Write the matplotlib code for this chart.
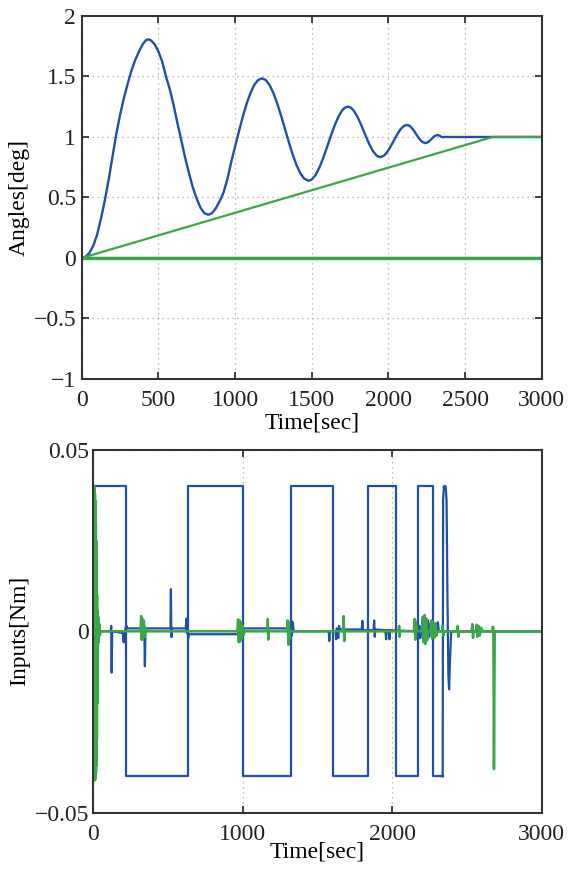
import matplotlib
matplotlib.use('Agg')
import matplotlib.pyplot as plt

plt.rcParams['font.family'] = ['Liberation Serif', 'DejaVu Serif']
plt.rcParams['font.size'] = 17

# --- top plot: angles ---
ang_t = [0, 25, 50, 75, 100, 125, 150, 175, 200, 225, 250, 275, 300, 325, 350, 375, 400, 420, 434,
         450, 475, 500, 525, 550, 575, 600, 625, 650, 675, 700, 725, 750, 775, 800, 826,
         850, 875, 900, 925, 950, 975, 1000, 1025, 1050, 1075, 1100, 1125, 1150, 1175,
         1200, 1225, 1250, 1275, 1300, 1325, 1350, 1375, 1400, 1425, 1450, 1479,
         1500, 1525, 1550, 1575, 1600, 1625, 1650, 1675, 1700, 1715, 1736,
         1755, 1775, 1800, 1825, 1850, 1875, 1900, 1925, 1947,
         1970, 1990, 2010, 2035, 2057, 2080, 2100, 2121,
         2140, 2160, 2180, 2200, 2220, 2241, 2261, 2281, 2301, 2321, 2335, 2350, 2370, 3000]
ang_v = [0, 0.01, 0.04, 0.10, 0.19, 0.32, 0.47, 0.64, 0.83, 1.02, 1.18, 1.32, 1.44, 1.55, 1.64,
         1.71, 1.77, 1.80, 1.807,
         1.80, 1.768, 1.708, 1.623, 1.50, 1.392, 1.26, 1.111, 0.97, 0.827, 0.70, 0.582, 0.49,
         0.415, 0.37, 0.357,
         0.37, 0.411, 0.47, 0.54, 0.65, 0.792, 0.918, 1.044, 1.164, 1.272, 1.361, 1.429, 1.47, 1.485,
         1.471, 1.43, 1.364, 1.278, 1.178, 1.07, 0.962, 0.859, 0.771, 0.702, 0.657, 0.638,
         0.648, 0.685, 0.746, 0.826, 0.916, 1.009, 1.096, 1.17, 1.222, 1.241, 1.251,
         1.243, 1.217, 1.163, 1.093, 1.016, 0.942, 0.882, 0.844, 0.833,
         0.844, 0.871, 0.91, 0.969, 1.02, 1.065, 1.09, 1.10,
         1.091, 1.064, 1.026, 0.988, 0.96, 0.949, 0.959, 0.983, 1.007, 1.017, 1.01, 0.998, 1.0, 1.0]
ref_t = [0, 2680, 3000]
ref_v = [0, 1, 1]
zero_t = [0, 3000]
zero_v = [0, 0]

# --- bottom plot: inputs ---
sq_t = [0, 220, 633, 1000, 1326, 1602, 1836, 2024, 2171, 2275, 2338]
sq_v = [0.04, -0.04, 0.04, -0.04, 0.04, -0.04, 0.04, -0.04, 0.04, -0.04, -0.04]
pulse_t = [2338, 2341, 2346, 2358, 2364, 2370, 2376, 2381, 2387, 2395, 3000]
pulse_v = [-0.04, 0.036, 0.04, 0.04, 0.036, 0.01, -0.012, -0.016, -0.008, 0, 0]

bz_t = [0, 25, 118, 122, 125, 128, 132, 200, 204, 208, 213, 217, 224, 230, 343, 347, 351, 518, 521,
        524, 528, 620, 625, 628, 632, 636, 642, 990, 995, 1000, 1006, 1320, 1325, 1330, 1336, 1342,
        1576, 1580, 1584, 1622, 1626, 1630, 1640, 1645, 1650, 1797, 1801, 1805, 1876, 1880, 1884,
        1888, 1955, 1960, 1964, 1978, 1982, 1986, 2168, 2172, 2176, 2182, 2190, 2198, 2206, 2222,
        2228, 2234, 2240, 2248, 2256, 2266, 2300, 2306, 2312, 2330, 3000]
bz_v = [0, 0, 0, 0.0015, -0.0114, -0.001, 0, -0.0005, -0.003, 0, -0.003, 0.0008, 0.0015, 0.0008,
        0.0008, -0.0096, 0.0008, 0.0008, 0.0116, -0.0016, 0.0008, 0.0008, 0.0035, -0.0005, 0.003,
        -0.002, -0.0008, -0.0008, 0.002, -0.002, 0.0008, 0.0008, 0.003, -0.0012, 0.0025, 0, 0,
        -0.0027, 0, 0, -0.0022, 0.0008, -0.0018, 0.0015, 0.0005, 0.0005, 0.0029, 0.0003, 0.0003,
        0.003, -0.0015, 0.0005, 0.0003, -0.0022, 0.0003, 0.0003, -0.0022, 0.0003, 0, 0.003, -0.002,
        0.0015, -0.0018, 0.0012, 0, 0, 0.0035, -0.002, 0.003, -0.0015, 0.002, 0, 0, 0.0025, 0, 0, 0]

gz_t = [0, 1, 2, 3, 4, 5, 6, 7, 8, 9, 10, 11, 12, 13, 14, 15, 16, 17, 18, 19, 20, 21, 22, 23, 24,
        25, 26, 27, 28, 30, 32, 35, 38, 42, 46, 52, 318, 322, 326, 330, 334,
        340, 346, 352, 360, 965, 970, 975, 980, 985, 990, 995, 1000, 1008, 1015, 1166, 1169, 1172,
        1175, 1298, 1302, 1306, 1310, 1314, 1318, 1672, 1676, 1680, 1684, 2044, 2047, 2050, 2053,
        2145, 2150, 2155, 2160, 2165, 2198, 2204, 2210, 2216, 2222, 2228, 2234, 2240, 2255, 2262,
        2268, 2275, 2282, 2290, 2297, 2304, 2334, 2338, 2342, 2346, 2434, 2438, 2443, 2448, 2532,
        2536, 2541, 2546, 2560, 2565, 2570, 2578, 2586, 2595, 2605, 2668, 2673, 2677, 2681, 2686, 3000]
gz_v = [0, 0.04, -0.04, 0.04, -0.04, 0.04, -0.041, 0.04, -0.041, 0.04, -0.041, 0.039, -0.041,
        0.038, -0.041, 0.036, -0.04, 0.033, -0.04, 0.03, -0.039, 0.025, -0.037, 0.02, -0.034,
        0.015, -0.03, 0.01, -0.02, 0.0056, -0.008, 0.004, -0.003, 0.002, -0.001, 0,
        0, 0.0042, -0.0024, 0.0035, -0.002, 0.003, -0.0015, 0.001, 0, 0,
        0.0033, -0.003, 0.003, -0.0028, 0.0025, -0.002, 0.0015, -0.001, 0, 0, 0.0034, -0.0023, 0, 0,
        0.003, -0.0037, 0.0025, -0.002, 0, 0, 0.0042, -0.0027, 0, 0, 0.0015, -0.0015, 0, 0, 0.0034,
        -0.0023, 0.002, 0, 0, 0.004, -0.003, 0.0045, -0.0035, 0.0035, -0.0025, 0, 0, 0.003, -0.002,
        0.0025, -0.0018, 0.0022, -0.0012, 0, 0, 0.0015, -0.0012, 0, 0, 0.0015, -0.0015, 0, 0, 0.002,
        -0.0018, 0, 0, 0.0018, -0.0015, 0.0015, -0.0012, 0.001, 0, 0, 0.0013, 0.001, -0.038, 0, 0]

blue = '#1f4fa6'
green = '#3aa648'

fig = plt.figure(figsize=(5.74, 8.73), dpi=100)
ax1 = fig.add_axes([0.1423, 0.5659, 0.8014, 0.4158])
ax2 = fig.add_axes([0.162, 0.0691, 0.7817, 0.4155])

ax1.plot(zero_t, zero_v, color=blue, lw=1.6)
ax1.plot(ang_t, ang_v, color=blue, lw=1.7)
ax1.plot(zero_t, zero_v, color=green, lw=2.4)
ax1.plot(ref_t, ref_v, color=green, lw=1.6)
ax1.set_xlim(0, 3000)
ax1.set_ylim(-1, 2)
ax1.set_xticks([0, 500, 1000, 1500, 2000, 2500, 3000])
ax1.set_yticks([-1, -0.5, 0, 0.5, 1, 1.5, 2])
ax1.set_yticklabels(['\u22121', '\u22120.5', '0', '0.5', '1', '1.5', '2'])
ax1.set_xlabel('Time[sec]', labelpad=1)
ax1.set_ylabel('Angles[deg]', labelpad=3)
ax1.tick_params(axis='y', pad=4)

ax2.step(sq_t, sq_v, where='post', color=blue, lw=1.6)
ax2.plot(pulse_t, pulse_v, color=blue, lw=1.6)
ax2.plot(bz_t, bz_v, color=blue, lw=1.6)
ax2.plot(gz_t, gz_v, color=green, lw=1.8)
ax2.set_xlim(0, 3000)
ax2.set_ylim(-0.05, 0.05)
ax2.set_xticks([0, 1000, 2000, 3000])
ax2.set_yticks([-0.05, 0, 0.05])
ax2.set_yticklabels(['\u22120.05', '0', '0.05'])
ax2.set_xlabel('Time[sec]', labelpad=-2.5)
ax2.set_ylabel('Inputs[Nm]', labelpad=3)
ax2.tick_params(axis='y', pad=3)

for ax in (ax1, ax2):
    ax.grid(True, linestyle=(0, (1, 3)), color='#a8a8a8', lw=0.9)
    ax.tick_params(direction='in', top=True, right=True, length=5, width=1.2, colors='#222222')
    ax.tick_params(axis='x', pad=8.3)
    for s in ax.spines.values():
        s.set_linewidth(1.5)
        s.set_color('#333333')

plt.savefig('out.png', dpi=100)
